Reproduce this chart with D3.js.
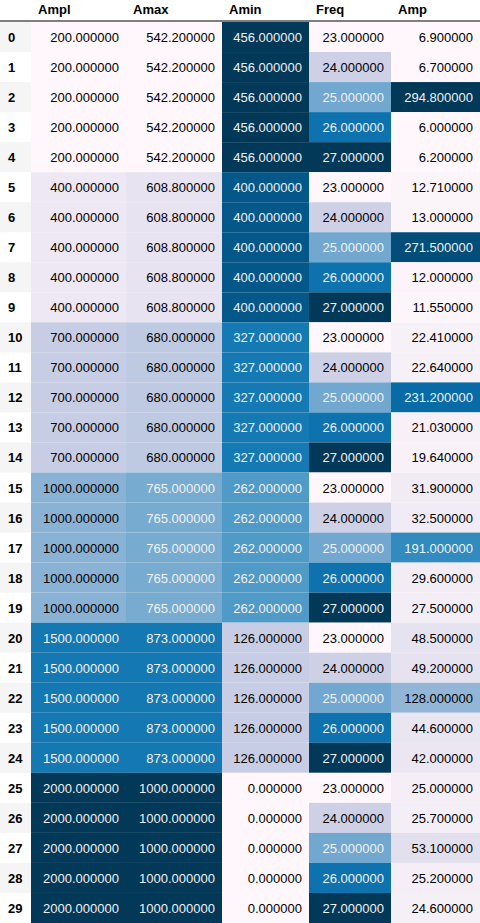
<!DOCTYPE html>
<html>
<head>
<meta charset="utf-8">
<script src="https://d3js.org/d3.v7.min.js"></script>
<style>body{margin:0;background:#fff;}</style>
</head>
<body>
<script>
var columns = ["Ampl", "Amax", "Amin", "Freq", "Amp"];
var ampl = [200,200,200,200,200,400,400,400,400,400,700,700,700,700,700,1000,1000,1000,1000,1000,1500,1500,1500,1500,1500,2000,2000,2000,2000,2000];
var amax = [542.2,542.2,542.2,542.2,542.2,608.8,608.8,608.8,608.8,608.8,680,680,680,680,680,765,765,765,765,765,873,873,873,873,873,1000,1000,1000,1000,1000];
var amin = [456,456,456,456,456,400,400,400,400,400,327,327,327,327,327,262,262,262,262,262,126,126,126,126,126,0,0,0,0,0];
var freq = [23,24,25,26,27,23,24,25,26,27,23,24,25,26,27,23,24,25,26,27,23,24,25,26,27,23,24,25,26,27];
var amp = [6.9,6.7,294.8,6,6.2,12.71,13,271.5,12,11.55,22.41,22.64,231.2,21.03,19.64,31.9,32.5,191,29.6,27.5,48.5,49.2,128,44.6,42,25,25.7,53.1,25.2,24.6];
var series = [ampl, amax, amin, freq, amp];

var W = 480, H = 923, headH = 22, rowH = (H - headH) / ampl.length;
var edges = [0, 31, 126, 222, 309, 391, 480];

var svg = d3.select("body").append("svg").attr("width", W).attr("height", H)
  .style("font-family", "'Liberation Sans', Arial, sans-serif").style("font-size", "13px");

var y = d3.scaleBand().domain(d3.range(ampl.length)).range([headH, H]);

// header
columns.forEach(function(c, j) {
  svg.append("text").attr("x", edges[j + 1] + 7).attr("y", 14)
    .attr("font-weight", "bold").attr("fill", "#000").text(c);
});
svg.append("line").attr("x1", 0).attr("x2", W).attr("y1", 21).attr("y2", 21)
  .attr("stroke", "#000").attr("stroke-width", 1.2);

// index column
ampl.forEach(function(v, i) {
  if (i % 2 === 0) svg.append("rect").attr("x", 0).attr("y", y(i)).attr("width", edges[1]).attr("height", y.bandwidth()).attr("fill", "#f5f5f5");
  svg.append("text").attr("x", 8).attr("y", y(i) + y.bandwidth() / 2 + 5)
    .attr("font-weight", "bold").text(i);
});

function lum(c) {
  var rgb = d3.rgb(c);
  var f = function(x) { x /= 255; return x <= 0.03928 ? x / 12.92 : Math.pow((x + 0.055) / 1.055, 2.4); };
  return 0.2126 * f(rgb.r) + 0.7152 * f(rgb.g) + 0.0722 * f(rgb.b);
}

series.forEach(function(vals, j) {
  var col = d3.scaleLinear().domain(d3.extent(vals)).range([0, 1]);
  var x0 = edges[j + 1], x1 = edges[j + 2];
  vals.forEach(function(v, i) {
    var c = d3.interpolatePuBu(col(v));
    svg.append("rect").attr("x", x0).attr("y", y(i)).attr("width", x1 - x0).attr("height", y.bandwidth()).attr("fill", c);
    svg.append("text").attr("x", x1 - 7).attr("y", y(i) + y.bandwidth() / 2 + 5)
      .attr("text-anchor", "end").attr("fill", lum(c) < 0.408 ? "#f1f1f1" : "#000")
      .text(v.toFixed(6));
  });
});
</script>
</body>
</html>
